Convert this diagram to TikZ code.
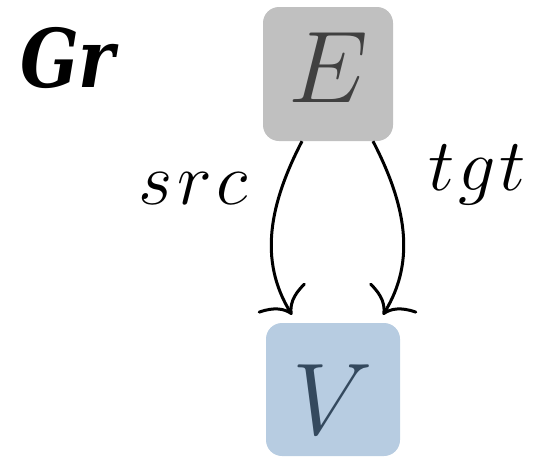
\RequirePackage{fix-cm}
\documentclass[tikz,border=0pt]{standalone}
\usepackage{fontspec}
\newfontfamily\grfont[FakeStretch=0.85]{DejaVu Serif}
\usetikzlibrary{arrows.meta}
\definecolor{efill}{HTML}{C0C0C0}
\definecolor{etext}{HTML}{404040}
\definecolor{vfill}{HTML}{B7CCE1}
\definecolor{vtext}{HTML}{34495E}
\tikzset{
  objbox/.style={rounded corners=16pt, inner sep=0pt, font=\fontsize{102}{110}\selectfont},
  arr/.style={line width=3pt, -{Computer Modern Rightarrow[length=21pt,width=56pt]}},
  lbl/.style={inner sep=0pt, anchor=base west, font=\fontsize{74}{80}\selectfont},
}
\begin{document}
\begin{tikzpicture}[x=1pt,y=-1pt]
\useasboundingbox (0,0) rectangle (538,456);
\node[anchor=base west, inner sep=0pt, font=\grfont\fontsize{81}{90}\selectfont\bfseries\itshape] (gr) at (20,87) {Gr};
\node[objbox, fill=efill, text=etext, minimum width=130pt, minimum height=134pt, text height=70pt, text depth=14pt] (E) at (328,74) {$E$};
\node[objbox, fill=vfill, text=vtext, minimum width=134pt, minimum height=133pt, text height=89pt, text depth=0pt] (V) at (333,389.5) {$V$};
\draw[arr] ([xshift=-26pt]E.south) .. controls +(-32,62) and +(-34,-55) .. ([xshift=-41pt,yshift=8pt]V.north);
\draw[arr] ([xshift=45pt]E.south) .. controls +(32,62) and +(34,-55) .. ([xshift=50pt,yshift=8pt]V.north);
\node[lbl] (src) at (138,204) {$s\kern5pt r\kern5pt c$};
\node[lbl] (tgt) at (428,190) {$t\kern4pt g\kern4pt t$};
\end{tikzpicture}
\end{document}
